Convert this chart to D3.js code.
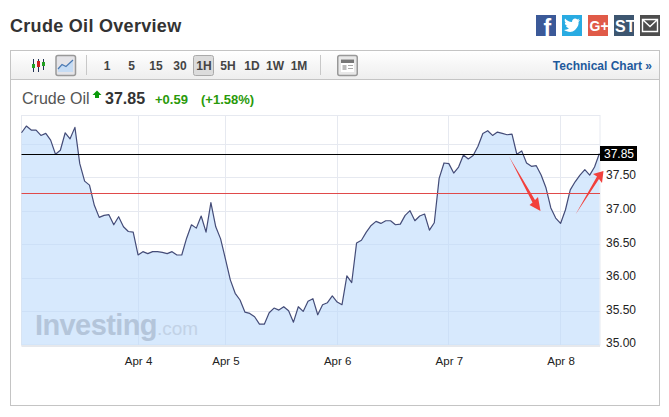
<!DOCTYPE html>
<html>
<head>
<meta charset="utf-8">
<script src="https://cdn.jsdelivr.net/npm/d3@7"></script>
<style>
  html, body { margin: 0; padding: 0; background: #fff; }
  svg { display: block; font-family: "Liberation Sans", Arial, sans-serif; }
  .domain { display: none; }
  .tick line { display: none; }
</style>
</head>
<body>
<svg class="chart"></svg>
<script>
// hourly closes, one per bar
var prices = [38.16, 38.26, 38.20, 38.20, 38.12, 38.15, 38.05, 37.84, 37.90, 38.16,
    38.07, 38.24, 37.70, 37.44, 37.38, 37.08, 36.90, 36.93, 36.94, 36.79,
    36.91, 36.76, 36.69, 36.68, 36.34, 36.39, 36.36, 36.39, 36.39, 36.38,
    36.36, 36.39, 36.34, 36.34, 36.59, 36.79, 36.74, 36.92, 36.68, 37.12,
    36.76, 36.58, 36.28, 35.97, 35.77, 35.67, 35.49, 35.47, 35.42, 35.31,
    35.31, 35.48, 35.55, 35.52, 35.57, 35.51, 35.34, 35.57, 35.50, 35.65,
    35.69, 35.45, 35.60, 35.63, 35.73, 35.64, 35.60, 36.03, 35.93, 36.52,
    36.56, 36.68, 36.78, 36.84, 36.81, 36.85, 36.85, 36.79, 36.80, 36.93,
    37.00, 36.85, 36.92, 36.95, 36.71, 36.82, 37.48, 37.71, 37.70, 37.56,
    37.65, 37.83, 37.77, 37.82, 37.96, 38.15, 38.19, 38.12, 38.17, 38.15,
    38.13, 38.14, 37.84, 37.89, 37.71, 37.66, 37.67, 37.53, 37.34, 37.04,
    36.89, 36.81, 37.01, 37.31, 37.43, 37.53, 37.61, 37.53, 37.65, 37.85];

var dayLabels = ["Apr 4", "Apr 5", "Apr 6", "Apr 7", "Apr 8"];
var dayBars = [24, 42, 65, 88, 111];
var priceGrid = [35, 35.5, 36, 36.5, 37, 37.5, 38];
var priceLabels = [35, 35.5, 36, 36.5, 37, 37.5];
var lastPrice = 37.85;
var refPrice = 37.26;
var intervals = ["1", "5", "15", "30", "1H", "5H", "1D", "1W", "1M"];
var intervalX = [107, 131.5, 156, 180, 204, 228, 252, 275, 299];

var svg = d3.select(".chart").attr("width", 669).attr("height", 417);
var defs = svg.append("defs");
var grad = defs.append("linearGradient").attr("id", "bar").attr("x2", 0).attr("y2", 1);
grad.append("stop").attr("offset", 0).attr("stop-color", "#ffffff");
grad.append("stop").attr("offset", 1).attr("stop-color", "#eeeeee");

// heading
svg.append("text").attr("x", 10).attr("y", 32).attr("fill", "#333")
    .style("font-size", "18px").style("font-weight", "bold").style("letter-spacing", "0.3px")
    .text("Crude Oil Overview");

// share buttons
var shareColors = ["#3b5998", "#29abe2", "#e05a48", "#3d5670", "#4d4d4d"];
var shareX = [536, 562, 588, 614, 640];
var share = svg.selectAll(".share").data(shareColors).enter().append("g")
    .attr("class", "share")
    .attr("transform", function(d, i) { return "translate(" + shareX[i] + ",15)"; });
share.append("rect").attr("width", 20).attr("height", 21).attr("fill", function(d) { return d; });
share.filter(function(d, i) { return i == 0; }).append("text")
    .attr("x", 7.5).attr("y", 21).attr("fill", "#fff")
    .style("font-size", "23px").style("font-weight", "bold").text("f");
share.filter(function(d, i) { return i == 1; }).append("path").attr("fill", "#fff")
    .attr("d", "M2 15C5 17 10 18 13 15C16 12 17 9 16.5 7L18 5L16 5.6L17.5 3.5L15.3 4.5C13.5 2.5 10 3.5 10 7C7 7 5 5.5 3 3.5C2.2 5.5 3 7 4 8L2.8 7.7C3 9.5 4 10.5 5.5 11L4 11C4.6 12.5 6 13 7 13.3C5.5 14.5 4 15 2 15Z");
share.filter(function(d, i) { return i == 2; }).append("text")
    .attr("x", 1.5).attr("y", 15.5).attr("fill", "#fff")
    .style("font-size", "14px").style("font-weight", "bold").text("G+");
share.filter(function(d, i) { return i == 3; }).append("text")
    .attr("x", 1).attr("y", 16.5).attr("fill", "#fff")
    .style("font-size", "16px").style("font-weight", "bold").text("ST");
share.filter(function(d, i) { return i == 4; }).append("path")
    .attr("fill", "none").attr("stroke", "#fff").attr("stroke-width", 1.4)
    .attr("d", "M2.5 4.5H17.5V16.5H2.5ZM2.5 4.5L10 11.5L17.5 4.5");

// card and toolbar
svg.append("rect").attr("x", 10.5).attr("y", 50.5).attr("width", 649).attr("height", 355)
    .attr("fill", "#fff").attr("stroke", "#c4c4c4");
svg.append("rect").attr("x", 11).attr("y", 51).attr("width", 648).attr("height", 28).attr("fill", "url(#bar)");
svg.append("line").attr("x1", 11).attr("x2", 659).attr("y1", 79.5).attr("y2", 79.5).attr("stroke", "#c4c4c4");
[86.5, 320.5].forEach(function(x) {
    svg.append("line").attr("x1", x).attr("x2", x).attr("y1", 55).attr("y2", 75).attr("stroke", "#c8c8c8");
});

// candle glyph
[[33.5, "#22a022", 59, 72, 64, 68], [38.5, "#d02020", 59, 72, 61, 67], [43.5, "#22a022", 59, 70, 62, 66]].forEach(function(c) {
    svg.append("line").attr("x1", c[0]).attr("x2", c[0]).attr("y1", c[2]).attr("y2", c[3]).attr("stroke", "#223355");
    svg.append("rect").attr("x", c[0] - 1.5).attr("y", c[4]).attr("width", 3).attr("height", c[5] - c[4]).attr("fill", c[1]);
});

// line glyph button
svg.append("rect").attr("x", 56).attr("y", 55.5).attr("width", 19.5).attr("height", 20).attr("rx", 2)
    .attr("fill", "#e4e4e8").attr("stroke", "#999").attr("stroke-width", 1.5);
svg.append("path").attr("d", "M58 69L62 64.5L66 66.5L73 60V72H58Z").attr("fill", "#c6dcf4");
svg.append("path").attr("d", "M58 69L62 64.5L66 66.5L73 60").attr("fill", "none").attr("stroke", "#4a7ab4").attr("stroke-width", 1.2);

// interval buttons
svg.append("rect").attr("x", 193.5).attr("y", 55.5).attr("width", 20).attr("height", 20).attr("rx", 2)
    .attr("fill", "#dcdcdc").attr("stroke", "#aaa");
svg.selectAll(".interval").data(intervals).enter().append("text")
    .attr("class", "interval")
    .attr("x", function(d, i) { return intervalX[i]; })
    .attr("y", 70).attr("text-anchor", "middle").attr("fill", "#444")
    .style("font-size", "12px").style("font-weight", "bold")
    .text(function(d) { return d; });

// table button
svg.append("rect").attr("x", 337.75).attr("y", 55.5).attr("width", 19.5).attr("height", 20).attr("rx", 2)
    .attr("fill", "#e8e8e8").attr("stroke", "#999").attr("stroke-width", 1.5);
svg.append("rect").attr("x", 341).attr("y", 59.5).attr("width", 13).attr("height", 12.5).attr("fill", "#fff");
svg.append("rect").attr("x", 341).attr("y", 59.5).attr("width", 13).attr("height", 3.5).attr("fill", "#777");
svg.append("rect").attr("x", 342.5).attr("y", 65).attr("width", 4).attr("height", 5).attr("fill", "#bbb");
svg.append("path").attr("d", "M348 65.5H353M348 68.5H353").attr("stroke", "#aaa");

svg.append("text").attr("x", 652).attr("y", 70).attr("text-anchor", "end").attr("fill", "#1f5a9c")
    .style("font-size", "12px").style("font-weight", "bold").text("Technical Chart »");

// quote line
svg.append("text").attr("x", 22).attr("y", 104).attr("fill", "#555").style("font-size", "16px").text("Crude Oil");
svg.append("path").attr("d", "M97 90.5L101.5 95H99V98H95V95H92.5Z").attr("fill", "#0a9a0a");
svg.append("text").attr("x", 105).attr("y", 104).attr("fill", "#333")
    .style("font-size", "16px").style("font-weight", "bold").text("37.85");
svg.append("text").attr("x", 155).attr("y", 104).attr("fill", "#2a9a0a")
    .style("font-size", "13px").style("font-weight", "bold").text("+0.59");
svg.append("text").attr("x", 201).attr("y", 104).attr("fill", "#2a9a0a")
    .style("font-size", "13px").style("font-weight", "bold").text("(+1.58%)");

// plot
var plotLeft = 21.5, plotRight = 600, plotTop = 115.5, plotBottom = 345;
var x = d3.scaleLinear().domain([0, 119]).range([plotLeft, 599.4]);
var y = d3.scaleLinear().domain([35, 38]).range([plotBottom, 143.5]);

var plot = svg.append("g");
plot.append("rect").attr("x", plotLeft).attr("y", plotTop)
    .attr("width", plotRight - plotLeft).attr("height", plotBottom - plotTop)
    .attr("fill", "#fff").attr("stroke", "#e6e9f0");

var gridColor = "#e6e9f0";
plot.selectAll(".hgrid").data(priceGrid).enter().append("line")
    .attr("class", "hgrid")
    .attr("x1", plotLeft).attr("x2", plotRight)
    .attr("y1", function(d) { return Math.round(y(d)) + 0.5; })
    .attr("y2", function(d) { return Math.round(y(d)) + 0.5; })
    .attr("stroke", gridColor);
plot.selectAll(".vgrid").data(dayBars).enter().append("line")
    .attr("class", "vgrid")
    .attr("x1", function(d) { return Math.floor(x(d)) + 0.5; })
    .attr("x2", function(d) { return Math.floor(x(d)) + 0.5; })
    .attr("y1", plotTop).attr("y2", plotBottom)
    .attr("stroke", gridColor);

var area = d3.area()
    .x(function(d, i) { return x(i); })
    .y0(plotBottom)
    .y1(function(d) { return y(d); });
var line = d3.line()
    .x(function(d, i) { return x(i); })
    .y(function(d) { return y(d); });

plot.append("path").datum(prices).attr("d", area).attr("fill", "#bcdafc").attr("fill-opacity", 0.6);
plot.append("rect").attr("x", plotLeft).attr("y", plotBottom).attr("width", plotRight - plotLeft).attr("height", 2).attr("fill", "#e6e8ec");

// watermark
var mark = plot.append("text").attr("x", 35).attr("y", 335).attr("fill", "#b4c5da");
mark.append("tspan").style("font-size", "29px").style("font-weight", "bold").style("letter-spacing", "-0.6px").text("Investing");
mark.append("tspan").attr("fill", "#c2d2e6").style("font-size", "19px").text(".com");

plot.append("path").datum(prices).attr("d", line).attr("fill", "none")
    .attr("stroke", "#444c78").attr("stroke-width", 1.2).attr("stroke-linejoin", "round");

plot.append("line").attr("x1", plotLeft).attr("x2", plotRight)
    .attr("y1", Math.round(y(lastPrice)) + 0.5).attr("y2", Math.round(y(lastPrice)) + 0.5)
    .attr("stroke", "#000");
plot.append("line").attr("x1", plotLeft).attr("x2", plotRight)
    .attr("y1", Math.round(y(refPrice)) + 0.5).attr("y2", Math.round(y(refPrice)) + 0.5)
    .attr("stroke", "#e04a4a");

// axes
var yAxis = d3.axisRight(y).tickValues(priceLabels).tickSize(0).tickPadding(6).tickFormat(d3.format(".2f"));
var yg = svg.append("g").attr("transform", "translate(600,-2)").call(yAxis);
yg.attr("font-family", null).attr("font-size", null);
yg.selectAll("text").attr("fill", "#222").style("font-size", "12px");

var xAxis = d3.axisBottom(x).tickValues(dayBars).tickSize(0).tickPadding(0)
    .tickFormat(function(d, i) { return dayLabels[i]; });
var xg = svg.append("g").attr("transform", "translate(0,357)").call(xAxis);
xg.attr("font-family", null).attr("font-size", null);
xg.selectAll("text").attr("fill", "#222").style("font-size", "11.5px");

// last price tag
svg.append("rect").attr("x", 600).attr("y", 146).attr("width", 37).attr("height", 15).attr("fill", "#000");
svg.append("text").attr("x", 604).attr("y", 158).attr("fill", "#fff").style("font-size", "12px").text("37.85");

// hand drawn arrows, pixel annotation on top of the screenshot
var arrows = [
    [[509, 156.5], [535, 200], [538, 197], [540.5, 211], [529.5, 205], [532.5, 202.5]],
    [[575.5, 214.5], [597, 176.5], [593, 174], [603.5, 171], [602, 183], [599, 179]]
];
svg.selectAll(".arrow").data(arrows).enter().append("path")
    .attr("class", "arrow").attr("fill", "#f2403c")
    .attr("d", function(d) { return d3.line()(d) + "Z"; });
</script>
</body>
</html>
